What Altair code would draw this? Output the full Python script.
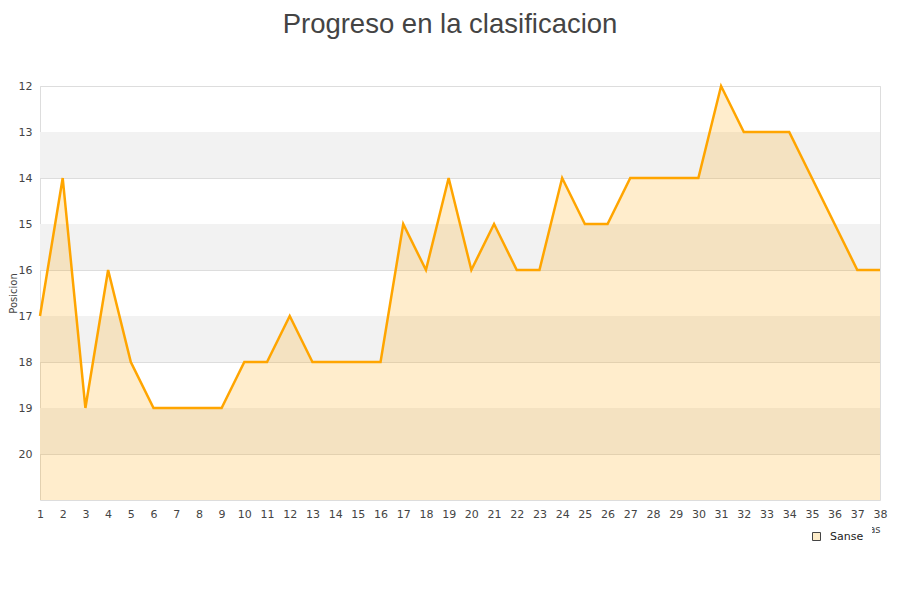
import altair as alt
import pandas as pd

jornadas = list(range(1, 39))
posiciones = [17, 14, 19, 16, 18, 19, 19, 19, 19, 18, 18, 17, 18, 18, 18, 18, 15, 16, 14, 16,
              15, 16, 16, 14, 15, 15, 14, 14, 14, 14, 12, 13, 13, 13, 14, 15, 16, 16]
equipo = "Sanse"
band_start = [13, 15, 17, 19]
band_end = [14, 16, 18, 20]

df = pd.DataFrame({"Jornada": jornadas, "Posicion": posiciones, "Equipo": equipo, "Fondo": 21})
bands = pd.DataFrame({"y": band_start, "y2": band_end})
leg = pd.DataFrame({"Equipo": [equipo], "Jornada": [1], "Posicion": [21]})

yscale = alt.Scale(domain=[12, 21], reverse=True, nice=False, zero=False)
xscale = alt.Scale(domain=[1, 38], nice=False, zero=False)

xaxis = alt.Axis(values=jornadas, title="Jornadas", titleAnchor="end", titleFontSize=10,
                 titleFontWeight="normal", titleColor="#444", grid=False, ticks=False,
                 labelFontSize=11, labelColor="#444", labelPadding=8, domain=False,
                 titlePadding=5, labelFlush=False, labelOverlap=False, labelBound=False)
yaxis = alt.Axis(values=list(range(12, 21)), title="Posicion", titleFontSize=10,
                 titleFontWeight="normal", titleColor="#444", grid=True, gridColor="#dddddd",
                 ticks=False, domain=False, labelFontSize=11, labelColor="#444",
                 labelPadding=8, titlePadding=0)

X = alt.X("Jornada:Q", scale=xscale, axis=xaxis)
Y = alt.Y("Posicion:Q", scale=yscale, axis=yaxis)

band_layer = alt.Chart(bands).mark_rect(color="#f2f2f2").encode(
    y=alt.Y("y:Q", scale=yscale, axis=yaxis),
    y2="y2:Q",
    x=alt.value(0), x2=alt.value(840),
)

area = alt.Chart(df).mark_area(color="#ffa500", fillOpacity=0.2).encode(
    x=X, y=Y, y2="Fondo:Q",
)

legend_layer = alt.Chart(leg).mark_point(shape="square", filled=True, opacity=0).encode(
    x=X, y=Y,
    fill=alt.Fill("Equipo:N", scale=alt.Scale(range=["#fdecc9"]),
                  legend=alt.Legend(title=None, orient="none", legendX=763, legendY=437,
                                    symbolType="square", symbolSize=64, symbolStrokeColor="#444",
                                    symbolStrokeWidth=1, symbolOpacity=1, labelFontSize=11,
                                    labelColor="#222", fillColor="white", padding=8,
                                    labelOffset=8)),
)

line = alt.Chart(df).mark_line(color="#ffa500", strokeWidth=2.5).encode(x=X, y=Y)

chart = alt.layer(band_layer, area, line, legend_layer).properties(
    width=840, height=414,
    autosize=alt.AutoSizeParams(type="none"),
    padding={"left": 32, "top": 78, "right": 10, "bottom": 70},
    title=alt.TitleParams("Progreso en la clasificacion", fontSize=27.5, font="Liberation Sans",
                          fontWeight="normal", color="#444", anchor="middle", offset=42, dx=-10),
).configure_view(stroke="#dddddd").configure(font="DejaVu Sans").configure_axisX(
    labelOverlap=False
)

chart.save("out.html", embed_options={"renderer": "svg", "actions": False})
